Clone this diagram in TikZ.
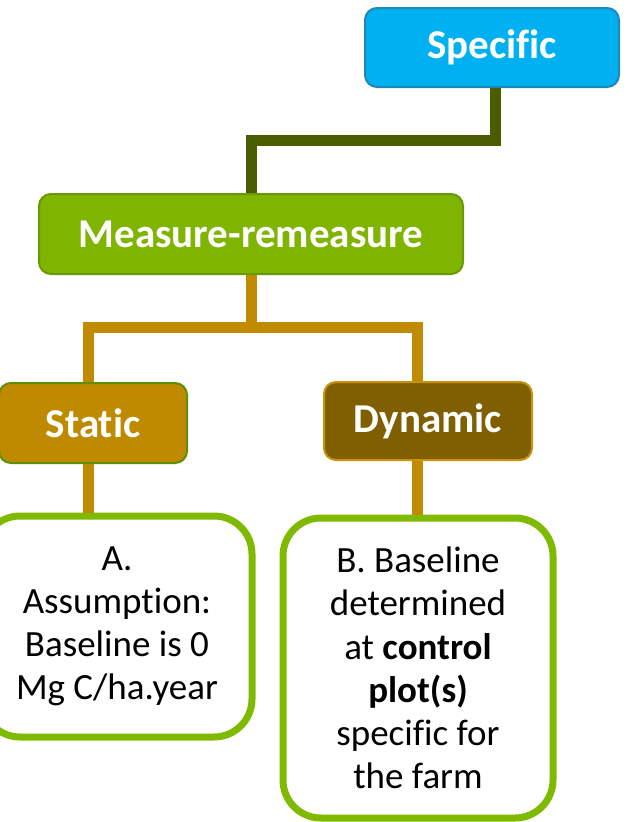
\documentclass[tikz,border=0pt]{standalone}
\usepackage{fontspec}
\setmainfont{Carlito}[Ligatures=NoCommon]
\usetikzlibrary{calc}
\definecolor{specfill}{HTML}{00B0F0}
\definecolor{specdraw}{HTML}{1E88B8}
\definecolor{measfill}{HTML}{7FB400}
\definecolor{measdraw}{HTML}{689A00}
\definecolor{darkconn}{HTML}{4A5E00}
\definecolor{goldconn}{HTML}{C08B00}
\definecolor{statfill}{HTML}{BF8A00}
\definecolor{statdraw}{HTML}{5E8F00}
\definecolor{dynfill}{HTML}{7F5F00}
\definecolor{dyndraw}{HTML}{C8920A}
\definecolor{leafdraw}{HTML}{7FBA00}
\tikzset{
  titlebox/.style={rounded corners=12pt, line width=2pt, inner sep=0pt,
    text=white, font=\fontsize{41}{49}\selectfont\bfseries},
  leafbox/.style={rounded corners=38pt, line width=7pt, draw=leafdraw, fill=white,
    inner sep=0pt, align=center, font=\fontsize{37}{43.2}\selectfont},
  darklink/.style={draw=darkconn, line width=11pt},
  goldlink/.style={draw=goldconn, line width=11pt},
}
\begin{document}
\begin{tikzpicture}[x=1pt,y=-1pt]
\useasboundingbox (0,0) rectangle (628,822);
\clip (0,0) rectangle (628,822);

% boxes
\node[titlebox, fill=specfill, draw=specdraw, minimum width=254pt, minimum height=79pt]
  (spec) at (492,47.5) {Specific};
\node[titlebox, fill=measfill, draw=measdraw, minimum width=424pt, minimum height=80pt]
  (meas) at (251,234) {Measure-remeasure};
\node[titlebox, fill=statfill, draw=statdraw, minimum width=188pt, minimum height=80pt]
  (stat) at (93,423) {Static};
\node[titlebox, fill=dynfill, draw=dyndraw, minimum width=208pt, minimum height=78pt]
  (dyn) at (428,421) {Dynamic};
\node[leafbox, minimum width=270pt, minimum height=221pt] (leafA) at (117,626.5)
  {A.\\Assumption:\\Baseline is 0\\Mg C/ha.year};
\node[leafbox, minimum width=270pt, minimum height=300pt] (leafB) at (418,668)
  {B. Baseline\\determined\\at \textbf{control}\\\textbf{plot(s)}\\specific for\\the farm};

% connectors
\draw[darklink] ([xshift=3pt]spec.south) -- ++(0,52) -| (meas.north);
\draw[goldlink] (meas.south) -- ++(0,52) coordinate (fork);
\draw[goldlink] ([xshift=-5pt]stat.north) |- (fork) -| ([xshift=-11pt]dyn.north);
\draw[goldlink] ([xshift=-5pt]stat.south) -- ([xshift=-5pt]stat.south |- leafA.north);
\draw[goldlink] ([xshift=-11pt]dyn.south) -- ([xshift=-11pt]dyn.south |- leafB.north);
\end{tikzpicture}
\end{document}
